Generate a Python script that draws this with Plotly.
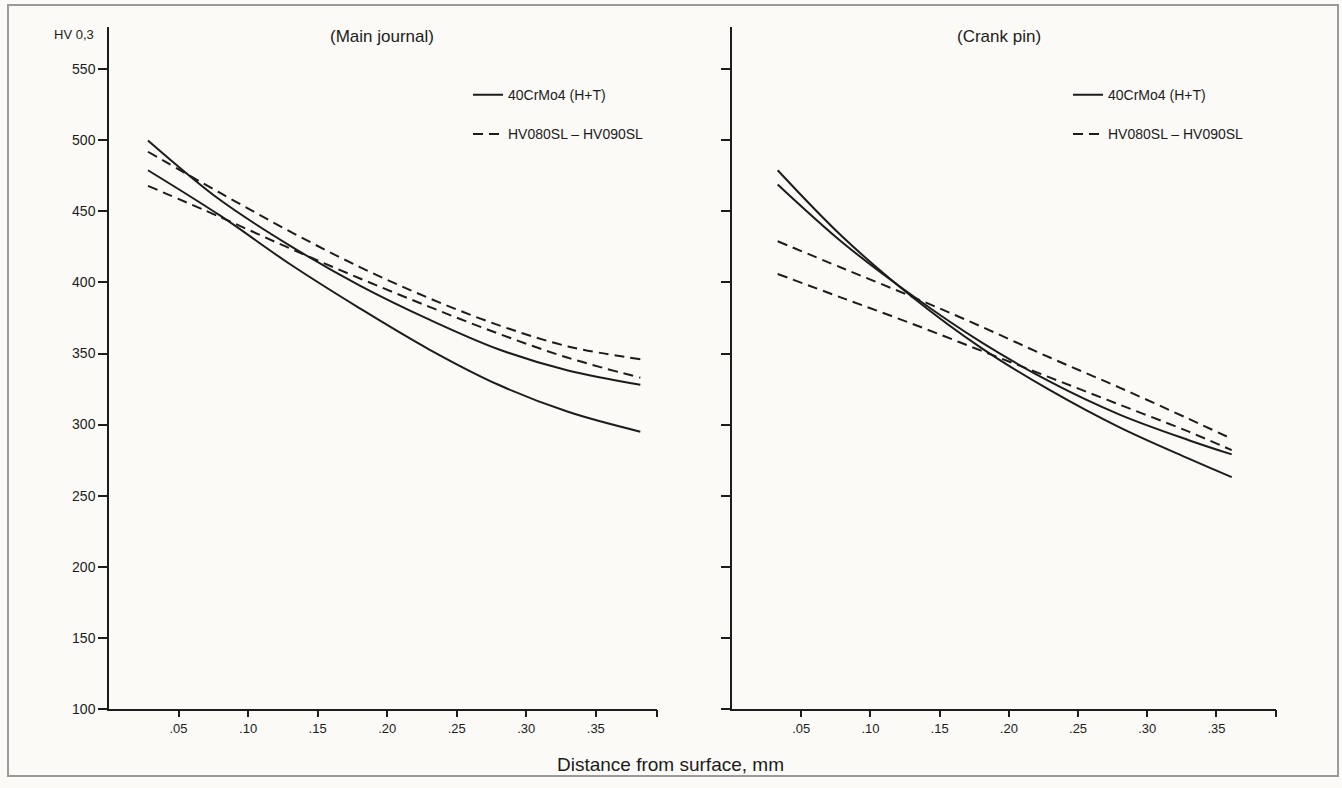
import plotly.graph_objects as go

# ---- data ----
depth_mj = [0.028, 0.08, 0.13, 0.18, 0.23, 0.28, 0.33, 0.382]
mj_solid_a = [500, 458, 426, 398, 374, 353, 338, 328]
mj_solid_b = [479, 447, 413, 382, 353, 328, 309, 295]
mj_dash_c = [492, 463, 436, 411, 389, 370, 355, 346]
mj_dash_d = [468, 446, 424, 403, 383, 364, 347, 333]

depth_cp = [0.033, 0.08, 0.13, 0.18, 0.23, 0.28, 0.33, 0.361]
cp_solid_e = [479, 432, 390, 354, 324, 298, 276, 263]
cp_solid_f = [469, 428, 391, 358, 330, 307, 289, 279]
cp_dash_g = [429, 410, 390, 369, 347, 326, 304, 290]
cp_dash_h = [406, 389, 371, 352, 333, 314, 295, 282]

x_tick_vals = [0.05, 0.10, 0.15, 0.20, 0.25, 0.30, 0.35]
x_tick_text = [".05", ".10", ".15", ".20", ".25", ".30", ".35"]
y_tick_vals = [100, 150, 200, 250, 300, 350, 400, 450, 500, 550]

name_solid = "40CrMo4 (H+T)"
name_dash = "HV080SL \u2013 HV090SL"

INK = "#1c1c1c"
FONT = "Liberation Sans, Arial, sans-serif"
W, H = 1342, 788

fig = go.Figure()

def add(xs, ys, dash, xa, ya, name, show, legend, group):
    fig.add_trace(go.Scatter(
        x=xs, y=ys, mode="lines", name=name,
        line=dict(color=INK, width=2, dash=dash, shape="spline", smoothing=1.0),
        xaxis=xa, yaxis=ya, showlegend=show, legend=legend, legendgroup=group,
        hoverinfo="skip"))

DASH = "10px,6px"
add(depth_mj, mj_solid_a, "solid", "x", "y", name_solid, True, "legend", "s1")
add(depth_mj, mj_solid_b, "solid", "x", "y", name_solid, False, "legend", "s1")
add(depth_mj, mj_dash_c, DASH, "x", "y", name_dash, True, "legend", "d1")
add(depth_mj, mj_dash_d, DASH, "x", "y", name_dash, False, "legend", "d1")

add(depth_cp, cp_solid_e, "solid", "x2", "y2", name_solid, True, "legend2", "s2")
add(depth_cp, cp_solid_f, "solid", "x2", "y2", name_solid, False, "legend2", "s2")
add(depth_cp, cp_dash_g, DASH, "x2", "y2", name_dash, True, "legend2", "d2")
add(depth_cp, cp_dash_h, DASH, "x2", "y2", name_dash, False, "legend2", "d2")

def px(x):
    return x / W

def py(y):
    return 1 - y / H

ydom = [py(716), py(27)]

xcommon = dict(ticks="outside", ticklen=7, tickwidth=1.5, tickcolor=INK,
               showline=True, linewidth=1.5, linecolor=INK, showgrid=False,
               zeroline=False, tickfont=dict(size=13, color=INK, family=FONT))
ycommon = dict(ticks="outside", ticklen=9, tickwidth=1.5, tickcolor=INK,
               showline=True, linewidth=1.5, linecolor=INK, showgrid=False,
               zeroline=False, range=[100, 580], tickvals=y_tick_vals,
               tickfont=dict(size=14, color=INK, family=FONT), domain=ydom)

fig.update_layout(
    width=W, height=H, autosize=False,
    margin=dict(l=0, r=0, t=0, b=0),
    paper_bgcolor="#fbfaf6", plot_bgcolor="rgba(0,0,0,0)",
    font=dict(family=FONT, color=INK),
    xaxis=dict(domain=[px(109), px(657)], range=[0, 0.394], anchor="y",
               tickvals=x_tick_vals + [0.394], ticktext=x_tick_text + [""], **xcommon),
    yaxis=dict(anchor="x", **ycommon),
    xaxis2=dict(domain=[px(732), px(1276)], range=[0, 0.393], anchor="y2",
                tickvals=x_tick_vals + [0.393], ticktext=x_tick_text + [""], **xcommon),
    yaxis2=dict(anchor="x2", showticklabels=False, **ycommon),
    legend=dict(x=px(468), y=py(80), xanchor="left", yanchor="top",
                bgcolor="rgba(0,0,0,0)", font=dict(size=14, color=INK, family=FONT),
                tracegroupgap=18),
    legend2=dict(x=px(1068), y=py(80), xanchor="left", yanchor="top",
                 bgcolor="rgba(0,0,0,0)", font=dict(size=14, color=INK, family=FONT),
                 tracegroupgap=18),
    showlegend=True,
)

annots = [
    dict(text="(Main journal)", x=px(382), y=py(37), size=17),
    dict(text="(Crank pin)", x=px(999), y=py(37), size=17),
    dict(text="Distance from surface, mm", x=px(670), y=py(772), size=19),
]
for a in annots:
    fig.add_annotation(text=a["text"], x=a["x"], y=a["y"], xref="paper", yref="paper",
                       xanchor="center", yanchor="middle", showarrow=False,
                       font=dict(size=a["size"], color=INK, family=FONT))
fig.add_annotation(text="HV 0,3", x=px(96), y=py(35), xref="paper", yref="paper",
                   xanchor="right", yanchor="middle", showarrow=False,
                   font=dict(size=13, color=INK, family=FONT))

fig.add_shape(type="rect", xref="paper", yref="paper",
              x0=px(8), x1=px(1338), y0=py(784), y1=py(5),
              line=dict(color="#9a9a9a", width=2), layer="below")

fig.write_html("out.html")
